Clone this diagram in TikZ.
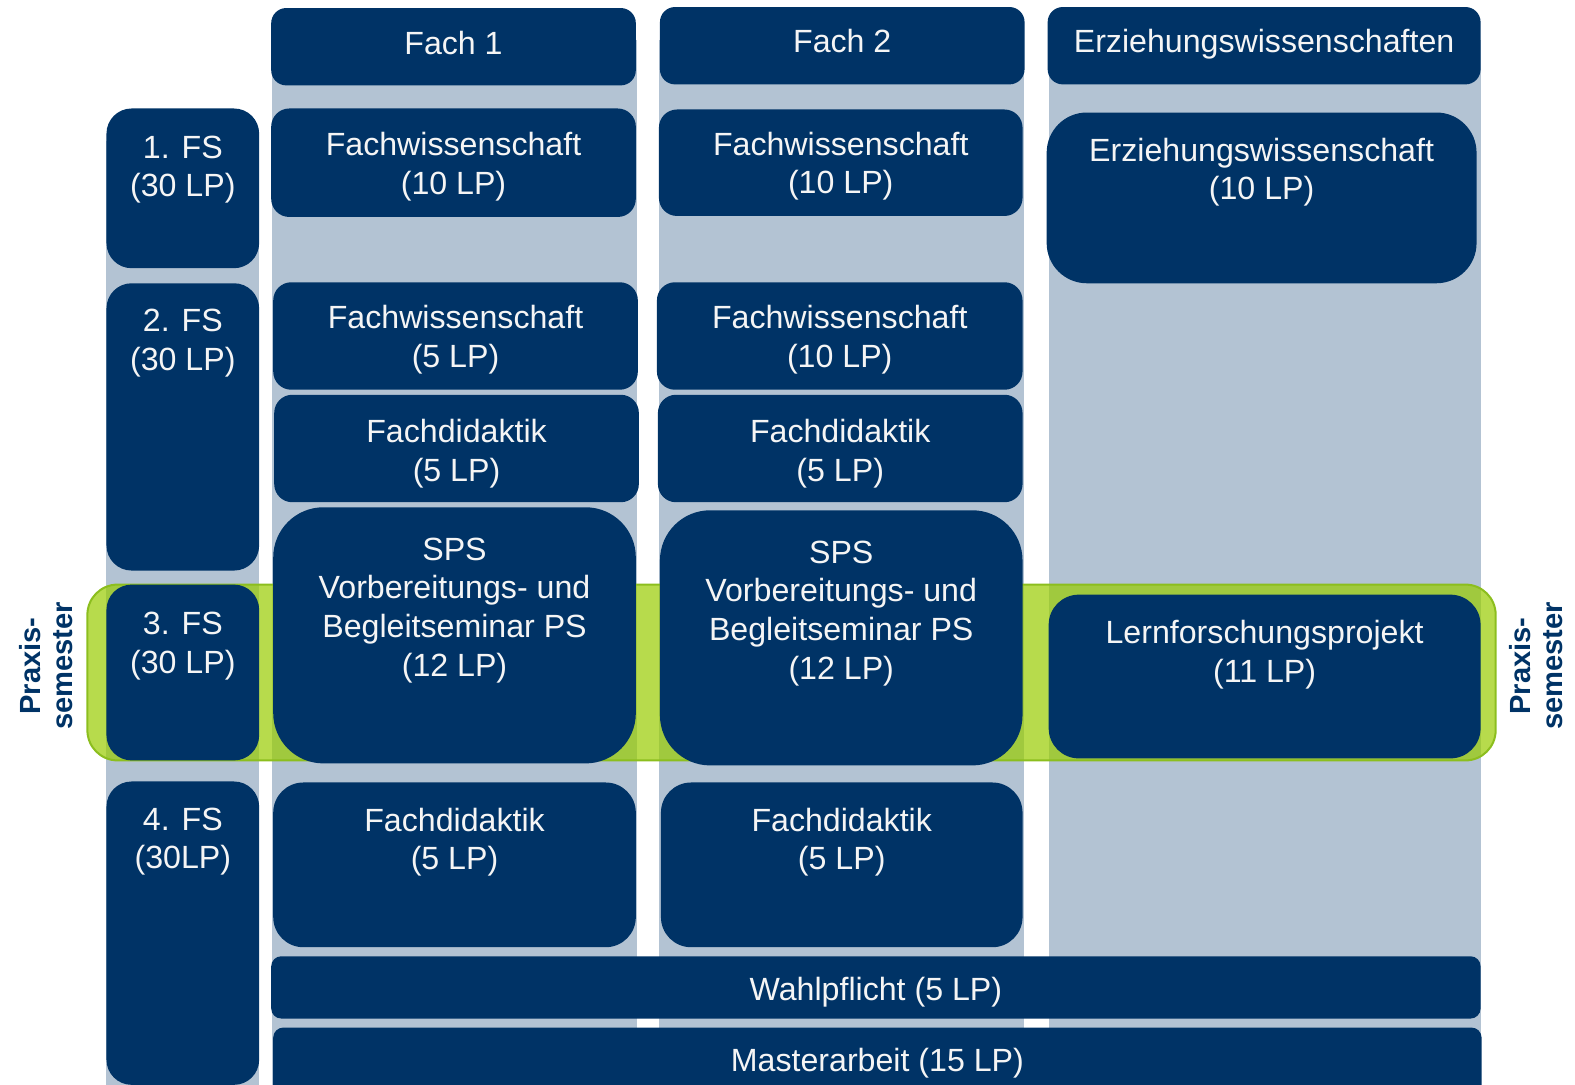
\documentclass[tikz,border=0pt]{standalone}
\usepackage{fontspec}
\setmainfont{Liberation Sans}
\definecolor{navy}{RGB}{0,51,102}
\definecolor{colbg}{RGB}{179,195,211}
\definecolor{bandgreen}{RGB}{153,204,0}
\definecolor{bandline}{RGB}{140,190,30}
\definecolor{txtwhite}{RGB}{245,245,245}
\tikzset{
  colback/.style={fill=colbg, draw=none, inner sep=0pt, outer sep=0pt},
  box/.style={fill=navy, draw=none, inner sep=0pt, outer sep=0pt},
  lbl/.style={text=txtwhite, align=center, inner sep=0pt, anchor=base,
    font=\fontsize{32}{38.5}\selectfont},
  side/.style={text=navy, align=center, inner sep=0pt, rotate=90,
    font=\fontsize{29}{32}\selectfont\bfseries},
}
\begin{document}
\begin{tikzpicture}[x=1pt,y=-1pt]
\useasboundingbox (0,0) rectangle (1568,1080);
\clip (0,0) rectangle (1568,1080);
% column backgrounds
\node[colback, minimum width=152, minimum height=940] (bgfs) at (182,610) {};
\node[colback, minimum width=363, minimum height=1040] (bgf1) at (452.5,560) {};
\node[colback, minimum width=363, minimum height=1040] (bgf2) at (837.5,560) {};
\node[colback, minimum width=430, minimum height=1040] (bgez) at (1259,560) {};
% green band (Praxissemester)
\node[fill=bandgreen, fill opacity=0.7, draw=bandline, line width=2pt,
  rounded corners=30pt, inner sep=0pt, minimum width=1402, minimum height=175] (band) at (788,669.5) {};
% headers
\node[box, rounded corners=15pt, minimum width=363, minimum height=77] (h1) at (451.5,46.5) {};
\node[box, rounded corners=15pt, minimum width=363, minimum height=77] (h2) at (838.5,45.5) {};
\node[box, rounded corners=15pt, minimum width=431, minimum height=77] (h3) at (1258.5,45.5) {};
\node[lbl] (h1t) at (451.5,54) {Fach 1};
\node[lbl] (h2t) at (838.5,52.5) {Fach 2};
\node[lbl] (h3t) at (1258.5,52.5) {Erziehungswissenschaften};
% semester column
\node[box, rounded corners=25pt, minimum width=152, minimum height=159] (fs1) at (182,187.5) {};
\node[box, rounded corners=25pt, minimum width=152, minimum height=286] (fs2) at (182,425) {};
\node[box, rounded corners=25pt, minimum width=152, minimum height=175] (fs3) at (182,669.5) {};
\node[box, rounded corners=25pt, minimum width=152, minimum height=302] (fs4) at (182,929) {};
\node[lbl] (fs1t) at (182,196) {1. FS\\(30 LP)};
\node[lbl] (fs2t) at (182,369) {2. FS\\(30 LP)};
\node[lbl] (fs3t) at (182,670) {3. FS\\(30 LP)};
\node[lbl] (fs4t) at (182,865) {4. FS\\(30LP)};
% Fach 1
\node[box, rounded corners=18pt, minimum width=363, minimum height=108] (a1) at (451.5,162) {};
\node[box, rounded corners=18pt, minimum width=363, minimum height=107] (a2) at (453.5,334.5) {};
\node[box, rounded corners=18pt, minimum width=363, minimum height=107] (a3) at (454.5,446.5) {};
\node[box, rounded corners=50pt, minimum width=361, minimum height=255] (a4) at (452.5,632.5) {};
\node[box, rounded corners=30pt, minimum width=361, minimum height=164] (a5) at (452.5,861) {};
\node[lbl] (a1t) at (451.5,193.5) {Fachwissenschaft\\(10 LP)};
\node[lbl] (a2t) at (453.5,366) {Fachwissenschaft\\(5 LP)};
\node[lbl] (a3t) at (454.5,479) {Fachdidaktik\\(5 LP)};
\node[lbl] (a4t) at (452.5,673) {SPS\\Vorbereitungs- und\\Begleitseminar PS\\(12 LP)};
\node[lbl] (a5t) at (452.5,866) {Fachdidaktik\\(5 LP)};
% Fach 2
\node[box, rounded corners=18pt, minimum width=362, minimum height=106] (b1) at (837,162) {};
\node[box, rounded corners=18pt, minimum width=364, minimum height=107] (b2) at (836,334.5) {};
\node[box, rounded corners=18pt, minimum width=363, minimum height=107] (b3) at (836.5,446.5) {};
\node[box, rounded corners=50pt, minimum width=361, minimum height=254] (b4) at (837.5,635) {};
\node[box, rounded corners=30pt, minimum width=360, minimum height=164] (b5) at (838,861) {};
\node[lbl] (b1t) at (837,193) {Fachwissenschaft\\(10 LP)};
\node[lbl] (b2t) at (836,366) {Fachwissenschaft\\(10 LP)};
\node[lbl] (b3t) at (836.5,479) {Fachdidaktik\\(5 LP)};
\node[lbl] (b4t) at (837.5,676) {SPS\\Vorbereitungs- und\\Begleitseminar PS\\(12 LP)};
\node[lbl] (b5t) at (838,866) {Fachdidaktik\\(5 LP)};
% Erziehungswissenschaften
\node[box, rounded corners=40pt, minimum width=428, minimum height=170] (c1) at (1256,197) {};
\node[box, rounded corners=30pt, minimum width=430, minimum height=163] (c2) at (1259,673.5) {};
\node[lbl] (c1t) at (1256,199) {Erziehungswissenschaft\\(10 LP)};
\node[lbl] (c2t) at (1259,679) {Lernforschungsprojekt\\(11 LP)};
% bottom rows
\node[box, rounded corners=10pt, minimum width=1204, minimum height=62] (wp) at (872,983) {};
\node[box, rounded corners=10pt, minimum width=1203, minimum height=72] (ma) at (873.5,1059) {};
\node[lbl] (wpt) at (872,996) {Wahlpflicht (5 LP)};
\node[lbl] (mat) at (873.5,1067) {Masterarbeit (15 LP)};
% side labels
\node[side] (sl) at (46,663) {Praxis-\\semester};
\node[side] (sr) at (1529,663) {Praxis-\\semester};
\end{tikzpicture}
\end{document}
